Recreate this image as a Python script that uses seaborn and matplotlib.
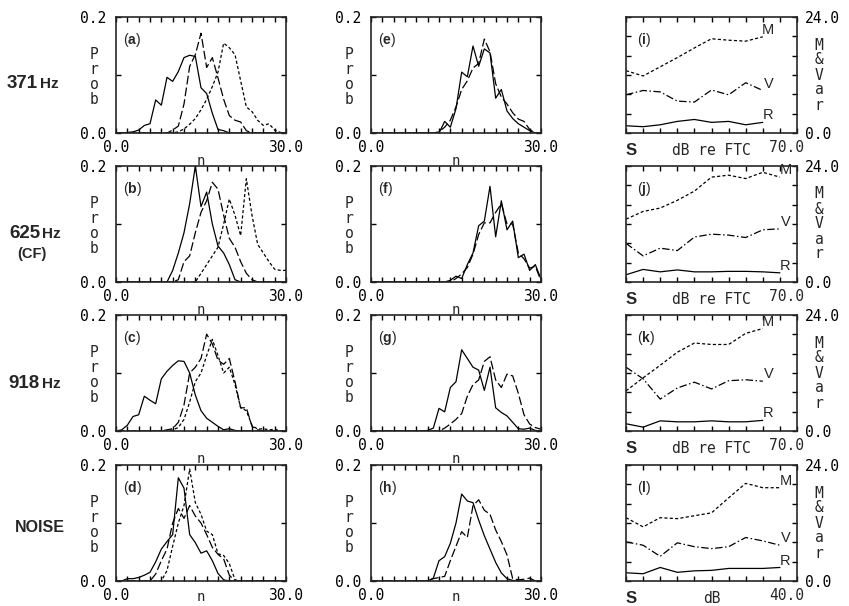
import seaborn as sns
import matplotlib.pyplot as plt

# n axis for the spike-count histograms
n = list(range(31))
z10 = [0] * 10

# (a) 371 Hz, three levels
a_solid = [0, 0, 0.001, 0.002, 0.005, 0.013, 0.016, 0.057, 0.048, 0.096,
           0.089, 0.106, 0.13, 0.134, 0.132, 0.078, 0.068, 0.034, 0.006, 0.004,
           0, 0, 0, 0, 0, 0, 0, 0, 0, 0, 0]
a_dash = z10 + [0.005, 0.012, 0.05, 0.115, 0.135, 0.172, 0.113, 0.13, 0.095, 0.058,
                0.03, 0.022, 0.019, 0.004, 0, 0, 0, 0, 0, 0, 0]
a_dot = z10 + [0, 0.002, 0.007, 0.015, 0.025, 0.04, 0.058, 0.08, 0.105, 0.155,
               0.147, 0.135, 0.09, 0.045, 0.037, 0.022, 0.013, 0.016, 0.005, 0.001, 0]
# (b) 625 Hz (CF)
b_solid = z10 + [0.02, 0.05, 0.085, 0.135, 0.2, 0.13, 0.155, 0.1, 0.062, 0.05,
                 0.03, 0.004, 0, 0, 0, 0, 0, 0, 0, 0, 0]
b_dash = z10 + [0, 0.004, 0.035, 0.045, 0.085, 0.12, 0.14, 0.172, 0.16, 0.115,
                0.075, 0.06, 0.035, 0.015, 0.004, 0, 0, 0, 0, 0, 0]
b_dot = z10 + [0, 0, 0, 0, 0, 0.015, 0.03, 0.045, 0.06, 0.1,
               0.143, 0.115, 0.08, 0.178, 0.115, 0.065, 0.05, 0.035, 0.022, 0.02, 0.02]
# (c) 918 Hz
c_solid = [0, 0.002, 0.01, 0.025, 0.028, 0.06, 0.053, 0.047, 0.09, 0.103,
           0.113, 0.121, 0.12, 0.1, 0.062, 0.035, 0.022, 0.015, 0.008, 0.002,
           0.004, 0.001, 0, 0, 0, 0, 0, 0, 0, 0, 0]
c_dash = [0, 0, 0, 0, 0, 0, 0, 0, 0, 0.002,
          0.004, 0.015, 0.045, 0.1, 0.11, 0.125, 0.167, 0.15, 0.122, 0.115,
          0.125, 0.085, 0.04, 0.04, 0.008, 0.002, 0, 0, 0, 0, 0]
c_dot = z10 + [0.002, 0.006, 0.02, 0.05, 0.085, 0.1, 0.13, 0.158, 0.13, 0.1,
               0.11, 0.08, 0.04, 0.035, 0.01, 0.003, 0.004, 0.002, 0.003, 0, 0]
# (d) noise
d_solid = [0, 0, 0.004, 0.004, 0.006, 0.01, 0.015, 0.033, 0.055, 0.068,
           0.08, 0.178, 0.16, 0.08, 0.066, 0.048, 0.052, 0.035, 0.013, 0.002,
           0, 0, 0, 0, 0, 0, 0, 0, 0, 0, 0]
d_dash = [0, 0, 0, 0, 0, 0, 0, 0.012, 0.035, 0.055,
          0.1, 0.125, 0.108, 0.13, 0.112, 0.1, 0.08, 0.058, 0.046, 0.038,
          0.01, 0, 0, 0, 0, 0, 0, 0, 0, 0, 0]
d_dot = [0, 0, 0, 0, 0, 0, 0, 0, 0, 0.018,
         0.06, 0.1, 0.13, 0.193, 0.135, 0.115, 0.086, 0.08, 0.047, 0.044,
         0.03, 0.002, 0, 0, 0, 0, 0, 0, 0, 0, 0]
# (e)-(h) second column
e_solid = z10 + [0, 0, 0, 0.02, 0.01, 0.042, 0.105, 0.097, 0.15, 0.115,
                 0.145, 0.138, 0.06, 0.075, 0.038, 0.025, 0.016, 0.01, 0.004, 0, 0]
e_dash = z10 + [0, 0, 0.002, 0.01, 0.022, 0.045, 0.075, 0.09, 0.112, 0.12,
                0.162, 0.14, 0.085, 0.062, 0.05, 0.035, 0.024, 0.02, 0.006, 0, 0]
f_solid = z10 + [0, 0, 0, 0, 0.003, 0.01, 0.006, 0.03, 0.05, 0.097,
                 0.105, 0.165, 0.078, 0.14, 0.09, 0.105, 0.042, 0.048, 0.02, 0.03, 0.005]
f_dash = z10 + [0, 0, 0, 0, 0, 0.006, 0.014, 0.025, 0.048, 0.082,
                0.102, 0.102, 0.12, 0.135, 0.1, 0.1, 0.05, 0.04, 0.024, 0.027, 0.002]
g_solid = z10 + [0.001, 0.005, 0.039, 0.033, 0.075, 0.085, 0.14, 0.125, 0.11, 0.105,
                 0.07, 0.11, 0.04, 0.032, 0.026, 0.015, 0.004, 0.003, 0.005, 0.001, 0]
g_dash = z10 + [0, 0, 0, 0.005, 0.012, 0.02, 0.03, 0.06, 0.08, 0.088,
                0.12, 0.128, 0.088, 0.075, 0.098, 0.095, 0.065, 0.028, 0.012, 0.006, 0.003]
h_solid = z10 + [0, 0.005, 0.035, 0.042, 0.065, 0.1, 0.15, 0.138, 0.135, 0.105,
                 0.078, 0.055, 0.032, 0.014, 0.004, 0.001, 0, 0, 0, 0, 0]
h_dash = z10 + [0, 0.004, 0.006, 0.008, 0.035, 0.06, 0.085, 0.075, 0.13, 0.14,
                0.122, 0.115, 0.088, 0.068, 0.045, 0.004, 0.002, 0.003, 0.005, 0, 0]

# (i)-(l) mean / variance / ratio vs level
i_x = [0, 7, 14, 21, 28, 35, 42, 49, 56]
i_M = [12.9, 11.8, 13.7, 15.6, 17.6, 19.5, 19.2, 19.0, 19.9]
i_V = [7.9, 8.8, 8.5, 6.6, 6.4, 8.9, 7.9, 10.4, 8.8]
i_R = [1.5, 1.3, 1.7, 2.4, 2.8, 2.2, 2.4, 1.7, 2.2]
j_x = [0, 7, 14, 21, 28, 35, 42, 49, 56, 63]
j_M = [13.0, 14.6, 15.3, 16.9, 18.8, 21.7, 22.1, 21.4, 22.7, 21.7]
j_V = [8.0, 5.4, 7.0, 6.5, 9.3, 9.9, 9.7, 9.2, 10.8, 11.0]
j_R = [1.5, 2.6, 2.1, 2.5, 2.1, 2.1, 2.2, 2.2, 2.1, 1.9]
k_x = [0, 7, 14, 21, 28, 35, 42, 49, 56]
k_M = [8.3, 11.0, 13.6, 16.3, 18.2, 17.9, 17.9, 20.2, 21.2]
k_V = [13.2, 10.8, 6.6, 8.9, 10.1, 8.7, 10.4, 10.6, 10.3]
k_R = [1.5, 0.8, 2.1, 1.9, 1.9, 2.1, 1.9, 1.9, 2.2]
l_x = [0, 4, 8, 12, 16, 20, 24, 28, 32, 36]
l_M = [13.1, 11.2, 13.1, 12.9, 13.5, 14.1, 17.2, 20.2, 19.3, 19.3]
l_V = [8.1, 7.4, 5.1, 7.9, 7.1, 6.7, 7.1, 9.0, 8.3, 7.4]
l_R = [1.7, 1.5, 2.8, 1.8, 2.1, 2.2, 2.6, 2.6, 2.6, 2.8]

row_names = ['371', '625', '918', 'NOISE']

SOLID = '-'
DASH = (0, (7, 2.5))
DOT = (0, (2.5, 1.8))
DASHDOT = (0, (6, 2, 1.2, 2))

sns.set_style('ticks')
plt.rcParams['font.family'] = ['DejaVu Sans Mono', 'DejaVu Sans']
plt.rcParams['mathtext.fontset'] = 'custom'
plt.rcParams['mathtext.rm'] = 'Liberation Sans'
plt.rcParams['mathtext.bf'] = 'Liberation Sans:bold'
plt.rcParams['axes.linewidth'] = 1.2

W, H = 849, 606
fig = plt.figure(figsize=(W / 100, H / 100), dpi=100)

col_left = [116, 371, 626]
col_w = [170, 170, 171]
row_top = [17, 166, 315, 465]
row_h = 116


def make_ax(r, c):
    x0 = col_left[c] / W
    y0 = 1 - (row_top[r] + row_h) / H
    return fig.add_axes([x0, y0, col_w[c] / W, row_h / H])


def panel_tag(ax, letter, x):
    ax.text(x, 0.8, r'($\mathbf{' + letter + '}$)', transform=ax.transAxes,
            fontsize=10, family='Liberation Sans', va='center', ha='left')


def prob_panel(ax, curves, letter, last_row=False):
    for vals, ls in curves:
        sns.lineplot(x=n, y=vals, ax=ax, color='black', linewidth=0.9, linestyle=ls)
    ax.set_xlim(0, 30)
    ax.set_ylim(0, 0.2)
    ax.set_xticks(range(0, 31, 2))
    ax.set_xticklabels(['0.0'] + [''] * 14 + ['30.0'])
    ax.set_yticks([0, 0.1, 0.2])
    ax.set_yticklabels(['0.0', '', '0.2'])
    ax.tick_params(direction='in', top=True, right=True, length=3.5, width=1,
                   labelsize=10.5, colors='black')
    ax.tick_params(axis='x', pad=5)
    ax.tick_params(axis='y', pad=7)
    # the bottom row has little room below, so its "n" sits a bit higher
    ax.set_xlabel('n', fontsize=10, labelpad=-9 if last_row else -1)
    ax.set_ylabel('')
    ax.text(-0.13, 0.48, 'P\nr\no\nb', transform=ax.transAxes, fontsize=10.5,
            ha='center', va='center', linespacing=1.0)
    panel_tag(ax, letter, 0.04)


def level_panel(ax, xs, M, V, R, letter, xmax, xlab, end_lab):
    for vals, ls, lab in [(M, DOT, 'M'), (V, DASHDOT, 'V'), (R, SOLID, 'R')]:
        sns.lineplot(x=xs, y=vals, ax=ax, color='black', linewidth=0.9, linestyle=ls)
        ax.annotate(lab, (xs[-1], vals[-1]), xytext=(4, 5), textcoords='offset points',
                    fontsize=10.5, family='Liberation Sans', ha='center', va='center')
    ax.set_xlim(0, xmax)
    ax.set_ylim(0, 24)
    ax.set_xticks([xmax * k / 10 for k in range(11)])
    ax.set_xticklabels([])
    ax.set_yticks(range(0, 25, 4))
    ax.set_yticklabels(['0.0', '', '', '', '', '', '24.0'])
    ax.tick_params(direction='in', top=True, right=True, length=3.5, width=1,
                   labelsize=10.5, labelleft=False, labelright=True, colors='black')
    ax.tick_params(axis='y', pad=6)
    ax.set_xlabel('')
    ax.set_ylabel('')
    ax.text(1.13, 0.5, 'M\n&\nV\na\nr', transform=ax.transAxes, fontsize=10.5,
            ha='center', va='center', linespacing=1.0)
    ax.text(0.0, -0.19, 'S', transform=ax.transAxes, fontsize=12,
            family='Liberation Sans', weight='bold', ha='left', va='baseline')
    ax.text(0.5, -0.19, xlab, transform=ax.transAxes, fontsize=10.5,
            ha='center', va='baseline')
    ax.text(0.94, -0.165, end_lab, transform=ax.transAxes, fontsize=10.5,
            ha='center', va='baseline')
    panel_tag(ax, letter, 0.065)


left_sets = [
    [(a_solid, SOLID), (a_dash, DASH), (a_dot, DOT)],
    [(b_solid, SOLID), (b_dash, DASH), (b_dot, DOT)],
    [(c_solid, SOLID), (c_dash, DASH), (c_dot, DOT)],
    [(d_solid, SOLID), (d_dash, DASH), (d_dot, DOT)],
]
mid_sets = [
    [(e_solid, SOLID), (e_dash, DASH)],
    [(f_solid, SOLID), (f_dash, DASH)],
    [(g_solid, SOLID), (g_dash, DASH)],
    [(h_solid, SOLID), (h_dash, DASH)],
]
right_sets = [
    (i_x, i_M, i_V, i_R, 'i', 70, 'dB re FTC', '70.0'),
    (j_x, j_M, j_V, j_R, 'j', 70, 'dB re FTC', '70.0'),
    (k_x, k_M, k_V, k_R, 'k', 70, 'dB re FTC', '70.0'),
    (l_x, l_M, l_V, l_R, 'l', 40, 'dB', '40.0'),
]

for r in range(4):
    prob_panel(make_ax(r, 0), left_sets[r], 'abcd'[r], last_row=(r == 3))
    prob_panel(make_ax(r, 1), mid_sets[r], 'efgh'[r], last_row=(r == 3))
    level_panel(make_ax(r, 2), *right_sets[r])

# row labels (pixel positions of baselines)
label_pos = [(38, 88), (40, 238), (40, 388)]
for (x, yb), name in zip(label_pos, row_names[:3]):
    fig.text(x / W, 1 - yb / H, name, fontsize=13.5, weight='bold',
             family='Liberation Sans', ha='right', va='baseline')
    fig.text((x + 2) / W, 1 - yb / H, 'Hz', fontsize=11, weight='bold',
             family='Liberation Sans', ha='left', va='baseline')
fig.text(32 / W, 1 - 258 / H, '(CF)', fontsize=10.5, weight='bold',
         family='Liberation Sans', ha='center', va='baseline')
fig.text(15 / W, 1 - 532 / H, row_names[3], fontsize=11.5, weight='bold',
         family='Liberation Sans', ha='left', va='baseline')

plt.savefig('out.png', dpi=100)
